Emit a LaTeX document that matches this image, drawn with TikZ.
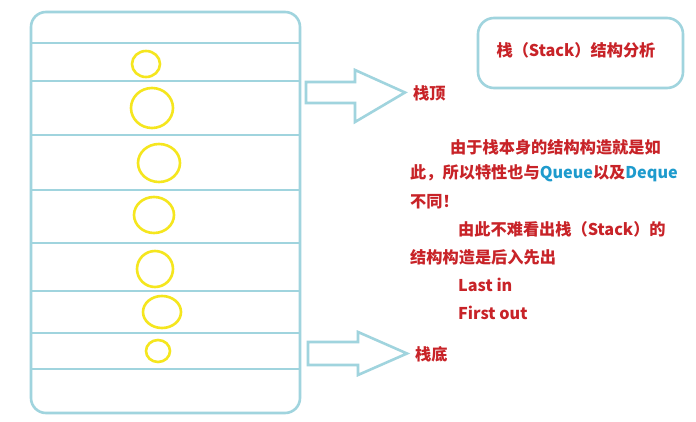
\documentclass[tikz,border=0pt]{standalone}
\usepackage{fontspec}
\setmainfont{Noto Sans CJK SC}
\usetikzlibrary{shapes.geometric}
\definecolor{lblue}{RGB}{160,212,222}
\definecolor{yel}{RGB}{245,230,30}
\definecolor{tred}{RGB}{200,35,40}
\definecolor{qblue}{RGB}{30,155,205}
\tikzset{
  frame/.style={draw=lblue, line width=2.6pt},
  ball/.style={draw=yel, line width=2.6pt},
  bigarrow/.style={draw=lblue, line width=2.6pt, line join=miter},
  txt/.style={anchor=west, inner sep=0pt, text=tred, font=\bfseries\fontsize{16.2}{19}\selectfont},
}
\begin{document}
\begin{tikzpicture}[x=1pt,y=-1pt]
\fill[white] (0,0) rectangle (696,422);
\useasboundingbox (0,0) rectangle (696,422);
% stack container
\draw[frame, rounded corners=15pt] (31,12) rectangle (300,413);
\foreach \yy in {43,81,135,190,243,291,333,369}
  \draw[frame] (31,\yy) -- (300,\yy);
% elements
\node[ball, ellipse, minimum width=28pt, minimum height=26pt, inner sep=0pt] (e1) at (146,64) {};
\node[ball, ellipse, minimum width=42pt, minimum height=40pt, inner sep=0pt] (e2) at (152,108) {};
\node[ball, ellipse, minimum width=42pt, minimum height=38pt, inner sep=0pt] (e3) at (159,163) {};
\node[ball, ellipse, minimum width=40pt, minimum height=36pt, inner sep=0pt] (e4) at (154,215) {};
\node[ball, ellipse, minimum width=36pt, minimum height=36pt, inner sep=0pt] (e5) at (155,269) {};
\node[ball, ellipse, minimum width=38pt, minimum height=32pt, inner sep=0pt] (e6) at (162,312) {};
\node[ball, ellipse, minimum width=24pt, minimum height=22pt, inner sep=0pt] (e7) at (158,351) {};
% arrows
\draw[bigarrow] (306,82) -- (355,82) -- (355,70) -- (405,92.5) -- (355,122) -- (355,103) -- (306,103) -- cycle;
\draw[bigarrow] (308,342) -- (358,342) -- (358,332) -- (407,353.5) -- (358,375) -- (358,365) -- (308,365) -- cycle;
\node[txt] (top) at (413,93) {栈顶};
\node[txt] (bottom) at (415,354) {栈底};
% title
\node[draw=lblue, line width=2.6pt, rounded corners=16pt, minimum width=205pt, minimum height=70pt] (titlebox) at (580.5,53) {};
\node[txt, anchor=center] (title) at (576,50) {栈（Stack）结构分析};
% paragraph
\node[txt] (l1) at (450,147) {由于栈本身的结构构造就是如};
\node[txt] (l2) at (410,173) {此，所以特性也与\textcolor{qblue}{Queue}以及\textcolor{qblue}{Deque}};
\node[txt] (l3) at (410,202) {不同！};
\node[txt] (l4) at (458,229) {由此不难看出栈（Stack）的};
\node[txt] (l5) at (410,257) {结构构造是后入先出};
\node[txt] (l6) at (458,285) {Last in};
\node[txt] (l7) at (458,313) {First out};
\end{tikzpicture}
\end{document}
